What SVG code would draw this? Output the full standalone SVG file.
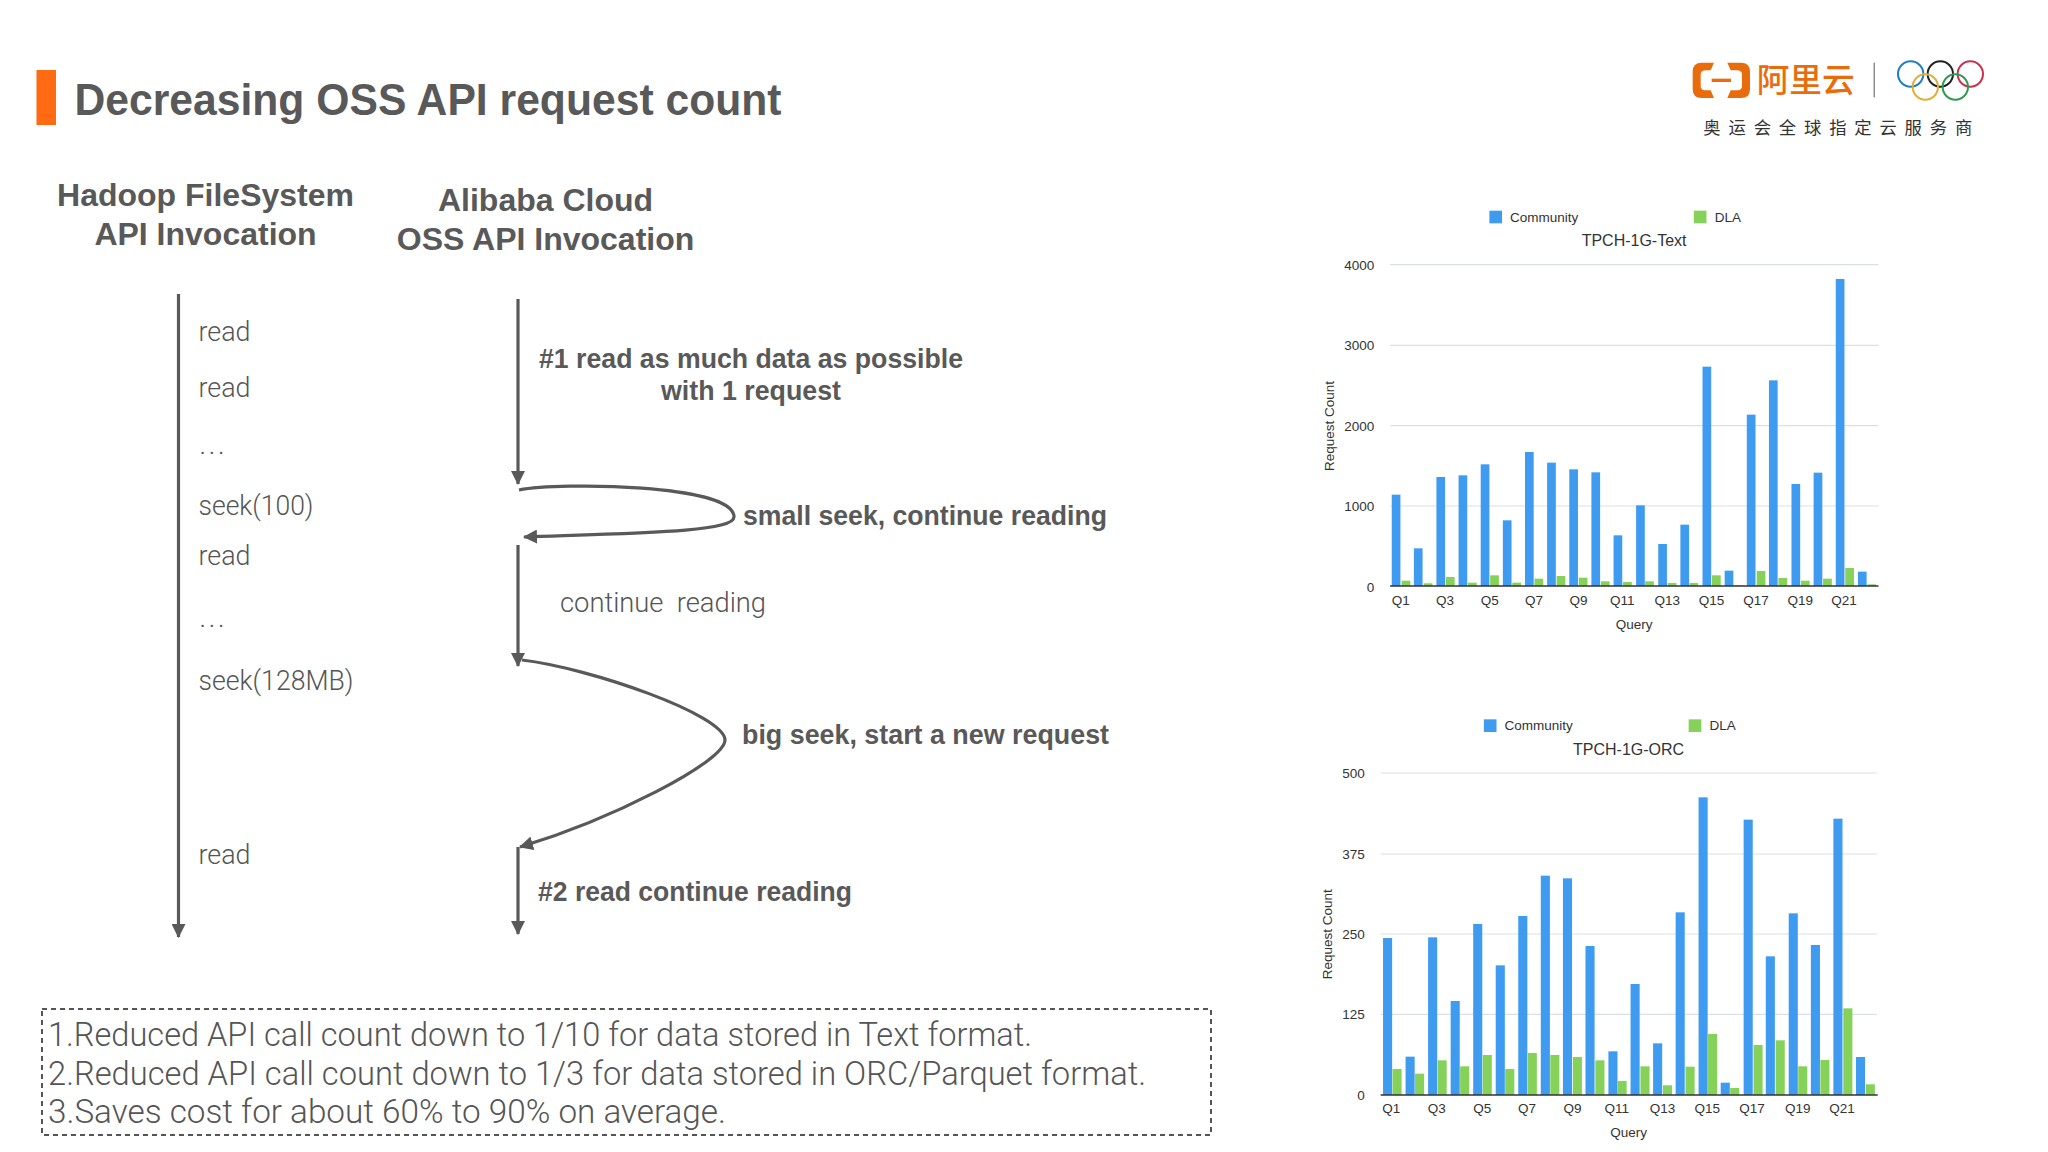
<svg xmlns="http://www.w3.org/2000/svg" width="2048" height="1152" viewBox="0 0 2048 1152">
<style>
text{font-family:"Liberation Sans",Arial,sans-serif;fill:#595959}
.h{font-weight:700;font-size:32px;text-anchor:middle}
.b{font-weight:700;font-size:28px}
.r{font-family:Roboto,"Liberation Sans",sans-serif;font-weight:300;font-size:27px;fill:#555}
.s{font-family:Roboto,"Liberation Sans",sans-serif;font-weight:300;font-size:33px;fill:#555}
.w{fill:none;stroke:#595959;stroke-width:3.2}
.g{stroke:#dcdfe6;stroke-width:1.2;vector-effect:non-scaling-stroke}
.a{stroke:#333;stroke-width:1.6;vector-effect:non-scaling-stroke}
.bl{fill:#3f9bf0}
.gr{fill:#85d159}
.t text{font-size:13.5px;fill:#333}
.t text.ct{font-size:16px}
.m{text-anchor:middle}
.e{text-anchor:end}
.ring{fill:none;stroke-width:6}
</style>
<defs>
<marker id="ah" viewBox="0 0 14 14" refX="13" refY="7" markerWidth="14" markerHeight="14" markerUnits="userSpaceOnUse" orient="auto"><path d="M0 0L14 7L0 14Z" fill="#595959"/></marker>
</defs>
<rect width="2048" height="1152" fill="#fff"/>
<rect id="title-mark" x="36.500" y="70" width="19.500" height="55" fill="#ff6a13"/>
<text id="title" x="74.500" y="115" font-size="44" font-weight="700" textLength="707" lengthAdjust="spacingAndGlyphs">Decreasing OSS API request count</text>

<g id="logo" transform="translate(1670 40) scale(.33333)">
<path fill="#e96c0c" d="M132 68H95Q68 68 68 95V147Q68 174 95 174H132L122 151H105Q92 150 92 138V104Q92 92 105 91H122Z"/>
<path fill="#e96c0c" d="M172 68H213Q240 68 240 95V147Q240 174 213 174H172L182 151H203Q216 150 216 138V104Q216 92 203 91H182Z"/>
<rect x="125" y="116" width="58" height="10" fill="#e96c0c"/>
<text x="260" y="157" font-size="98" font-weight="500" style="font-family:'Noto Sans CJK SC',sans-serif;fill:#e96c0c">阿里云</text>
<rect x="611" y="68" width="3" height="104" fill="#555"/>
<circle class="ring" cx="722" cy="102" r="38" stroke="#1c7fc4"/>
<circle class="ring" cx="811" cy="102" r="38" stroke="#222"/>
<circle class="ring" cx="901" cy="102" r="38" stroke="#c8324e"/>
<circle class="ring" cx="766" cy="141" r="38" stroke="#e2ae3a"/>
<circle class="ring" cx="856" cy="141" r="38" stroke="#2f9a52"/>
<text x="100" y="283" font-size="52" letter-spacing="23.500" style="font-family:'Noto Sans CJK SC',sans-serif;fill:#333">奥运会全球指定云服务商</text>
</g>

<g id="col-hadoop">
<text class="h" x="205.500" y="206">Hadoop FileSystem</text>
<text class="h" x="205.500" y="245">API Invocation</text>
</g>
<g id="col-oss">
<text class="h" x="545.500" y="211">Alibaba Cloud</text>
<text class="h" x="545.500" y="250">OSS API Invocation</text>
</g>

<g id="connectors">
<path class="w" marker-end="url(#ah)" d="M178.500 294V937"/>
<path class="w" marker-end="url(#ah)" d="M518 299V484"/>
<path class="w" marker-end="url(#ah)" d="M519 490C560 482 734 484 734 517C734 532 640 533 524 537"/>
<path class="w" marker-end="url(#ah)" d="M518 545V666"/>
<path class="w" marker-end="url(#ah)" d="M522 660C590 668 725 715 725 740C725 762 610 820 520 847"/>
<path class="w" marker-end="url(#ah)" d="M518 847V934"/>
</g>

<g id="hadoop-calls">
<text class="r" x="198.500" y="341" textLength="52" lengthAdjust="spacingAndGlyphs">read</text>
<text class="r" x="198.500" y="397" textLength="52" lengthAdjust="spacingAndGlyphs">read</text>
<text class="r" x="199.500" y="454" textLength="25">...</text>
<text class="r" x="198.500" y="515" textLength="115" lengthAdjust="spacingAndGlyphs">seek(100)</text>
<text class="r" x="198.500" y="565" textLength="52" lengthAdjust="spacingAndGlyphs">read</text>
<text class="r" x="199.500" y="627" textLength="25">...</text>
<text class="r" x="198.500" y="690" textLength="155" lengthAdjust="spacingAndGlyphs">seek(128MB)</text>
<text class="r" x="198.500" y="864" textLength="52" lengthAdjust="spacingAndGlyphs">read</text>
</g>
<g id="oss-labels">
<text class="b" x="539" y="368" textLength="424" lengthAdjust="spacingAndGlyphs">#1 read as much data as possible</text>
<text class="b" x="661" y="400" textLength="180" lengthAdjust="spacingAndGlyphs">with 1 request</text>
<text class="b" x="743" y="525" textLength="364" lengthAdjust="spacingAndGlyphs">small seek, continue reading</text>
<text class="r" x="560" y="612" xml:space="preserve" textLength="206" lengthAdjust="spacingAndGlyphs">continue  reading</text>
<text class="b" x="742" y="744" textLength="367" lengthAdjust="spacingAndGlyphs">big seek, start a new request</text>
<text class="b" x="538" y="901" textLength="314" lengthAdjust="spacingAndGlyphs">#2 read continue reading</text>
</g>

<g id="summary">
<rect x="42" y="1009" width="1169" height="126" fill="none" stroke="#555" stroke-width="2" stroke-dasharray="5 4"/>
<text class="s" x="48" y="1046" textLength="984" lengthAdjust="spacingAndGlyphs">1.Reduced API call count down to 1/10 for data stored in Text format.</text>
<text class="s" x="48" y="1085" textLength="1098" lengthAdjust="spacingAndGlyphs">2.Reduced API call count down to 1/3 for data stored in ORC/Parquet format.</text>
<text class="s" x="48" y="1123" textLength="678" lengthAdjust="spacingAndGlyphs">3.Saves cost for about 60% to 90% on average.</text>
</g>

<g id="chart-text" class="t">
<g transform="translate(1300 190) scale(.3954 .33333)">
<path class="g" d="M228 224H1463M228 466H1463M228 707H1463M228 948H1463"/>
<g class="bl">
<rect x="232" y="914" width="22" height="274"/><rect x="288" y="1075" width="22" height="113"/><rect x="345" y="861" width="22" height="327"/><rect x="401" y="856" width="22" height="332"/><rect x="457" y="823" width="22" height="365"/><rect x="513" y="991" width="22" height="197"/><rect x="569" y="786" width="22" height="402"/><rect x="625" y="818" width="22" height="370"/><rect x="681" y="838" width="22" height="350"/><rect x="737" y="847" width="22" height="341"/><rect x="793" y="1036" width="22" height="152"/><rect x="850" y="946" width="22" height="242"/><rect x="906" y="1062" width="22" height="126"/><rect x="962" y="1004" width="22" height="184"/><rect x="1018" y="530" width="22" height="658"/><rect x="1074" y="1142" width="22" height="46"/><rect x="1130" y="674" width="22" height="514"/><rect x="1186" y="571" width="22" height="617"/><rect x="1243" y="882" width="22" height="306"/><rect x="1299" y="848" width="22" height="340"/><rect x="1355" y="267" width="22" height="921"/><rect x="1411" y="1145" width="22" height="43"/>
</g>
<g class="gr">
<rect x="257" y="1172" width="22" height="16"/><rect x="313" y="1180" width="22" height="8"/><rect x="369" y="1161" width="22" height="27"/><rect x="425" y="1178" width="22" height="10"/><rect x="481" y="1156" width="22" height="32"/><rect x="537" y="1178" width="22" height="10"/><rect x="593" y="1166" width="22" height="22"/><rect x="649" y="1158" width="22" height="30"/><rect x="705" y="1163" width="22" height="25"/><rect x="761" y="1174" width="22" height="14"/><rect x="817" y="1176" width="22" height="12"/><rect x="873" y="1174" width="22" height="14"/><rect x="930" y="1179" width="22" height="9"/><rect x="985" y="1179" width="22" height="9"/><rect x="1042" y="1156" width="22" height="32"/><rect x="1098" y="1186" width="22" height="2"/><rect x="1155" y="1143" width="22" height="45"/><rect x="1210" y="1164" width="22" height="24"/><rect x="1267" y="1172" width="22" height="16"/><rect x="1323" y="1166" width="22" height="22"/><rect x="1379" y="1134" width="22" height="54"/><rect x="1435" y="1183" width="22" height="5"/>
</g>
<path class="a" d="M228 1188H1463"/>
<rect class="bl" x="479" y="62" width="32" height="38"/>
<rect class="gr" x="996" y="62" width="32" height="38"/>
</g>
<text x="1510" y="221.500">Community</text>
<text x="1714.800" y="221.500">DLA</text>
<text class="m ct" x="1634.100" y="245.500">TPCH-1G-Text</text>
<text class="e" x="1374.300" y="270">4000</text><text class="e" x="1374.300" y="350.300">3000</text><text class="e" x="1374.300" y="430.700">2000</text><text class="e" x="1374.300" y="511.300">1000</text><text class="e" x="1374.300" y="591.700">0</text>
<text class="m" x="1400.800" y="605.300">Q1</text><text class="m" x="1445.100" y="605.300">Q3</text><text class="m" x="1489.800" y="605.300">Q5</text><text class="m" x="1534.100" y="605.300">Q7</text><text class="m" x="1578.400" y="605.300">Q9</text><text class="m" x="1622.300" y="605.300">Q11</text><text class="m" x="1667.300" y="605.300">Q13</text><text class="m" x="1711.600" y="605.300">Q15</text><text class="m" x="1755.900" y="605.300">Q17</text><text class="m" x="1800.200" y="605.300">Q19</text><text class="m" x="1844.100" y="605.300">Q21</text>
<text class="m" x="1634.100" y="628.700">Query</text>
<text class="m" transform="translate(1334.400 426) rotate(-90)">Request Count</text>
</g>

<g id="chart-orc" class="t">
<g transform="translate(1300 700) scale(.3954 .33333)">
<path class="g" d="M204 219H1459M204 462H1459M204 702H1459M204 943H1459"/>
<g class="bl">
<rect x="210" y="714" width="23" height="471"/><rect x="267" y="1070" width="23" height="115"/><rect x="324" y="712" width="23" height="473"/><rect x="381" y="903" width="23" height="282"/><rect x="438" y="672" width="23" height="513"/><rect x="495" y="796" width="23" height="389"/><rect x="552" y="648" width="23" height="537"/><rect x="609" y="527" width="23" height="658"/><rect x="665" y="535" width="23" height="650"/><rect x="722" y="738" width="23" height="447"/><rect x="780" y="1054" width="23" height="131"/><rect x="836" y="852" width="23" height="333"/><rect x="893" y="1030" width="23" height="155"/><rect x="950" y="637" width="23" height="548"/><rect x="1008" y="292" width="23" height="893"/><rect x="1064" y="1148" width="23" height="37"/><rect x="1122" y="359" width="23" height="826"/><rect x="1178" y="769" width="23" height="416"/><rect x="1236" y="640" width="23" height="545"/><rect x="1292" y="735" width="23" height="450"/><rect x="1349" y="356" width="23" height="829"/><rect x="1406" y="1071" width="23" height="114"/>
</g>
<g class="gr">
<rect x="234" y="1107" width="23" height="78"/><rect x="291" y="1121" width="23" height="64"/><rect x="348" y="1081" width="23" height="104"/><rect x="405" y="1099" width="23" height="86"/><rect x="462" y="1065" width="23" height="120"/><rect x="519" y="1107" width="23" height="78"/><rect x="576" y="1059" width="23" height="126"/><rect x="633" y="1065" width="23" height="120"/><rect x="690" y="1071" width="23" height="114"/><rect x="747" y="1081" width="23" height="104"/><rect x="803" y="1143" width="23" height="42"/><rect x="861" y="1099" width="23" height="86"/><rect x="918" y="1156" width="23" height="29"/><rect x="975" y="1100" width="23" height="85"/><rect x="1032" y="1002" width="23" height="183"/><rect x="1088" y="1164" width="23" height="21"/><rect x="1147" y="1035" width="23" height="150"/><rect x="1203" y="1021" width="23" height="164"/><rect x="1260" y="1099" width="23" height="86"/><rect x="1316" y="1080" width="23" height="105"/><rect x="1374" y="925" width="23" height="260"/><rect x="1431" y="1153" width="23" height="32"/>
</g>
<path class="a" d="M204 1185H1461"/>
<rect class="bl" x="465" y="58" width="32" height="38"/>
<rect class="gr" x="983" y="58" width="32" height="38"/>
</g>
<text x="1504.400" y="730.300">Community</text>
<text x="1709.600" y="730.300">DLA</text>
<text class="m ct" x="1628.600" y="755">TPCH-1G-ORC</text>
<text class="e" x="1364.800" y="778.300">500</text><text class="e" x="1364.800" y="859">375</text><text class="e" x="1364.800" y="939">250</text><text class="e" x="1364.800" y="1019.300">125</text><text class="e" x="1364.800" y="1100">0</text>
<text class="m" x="1391.300" y="1113.300">Q1</text><text class="m" x="1436.800" y="1113.300">Q3</text><text class="m" x="1482.300" y="1113.300">Q5</text><text class="m" x="1527" y="1113.300">Q7</text><text class="m" x="1572.500" y="1113.300">Q9</text><text class="m" x="1616.700" y="1113.300">Q11</text><text class="m" x="1662.600" y="1113.300">Q13</text><text class="m" x="1707.300" y="1113.300">Q15</text><text class="m" x="1752" y="1113.300">Q17</text><text class="m" x="1797.800" y="1113.300">Q19</text><text class="m" x="1842.100" y="1113.300">Q21</text>
<text class="m" x="1628.600" y="1136.700">Query</text>
<text class="m" transform="translate(1332 934.300) rotate(-90)">Request Count</text>
</g>
</svg>
